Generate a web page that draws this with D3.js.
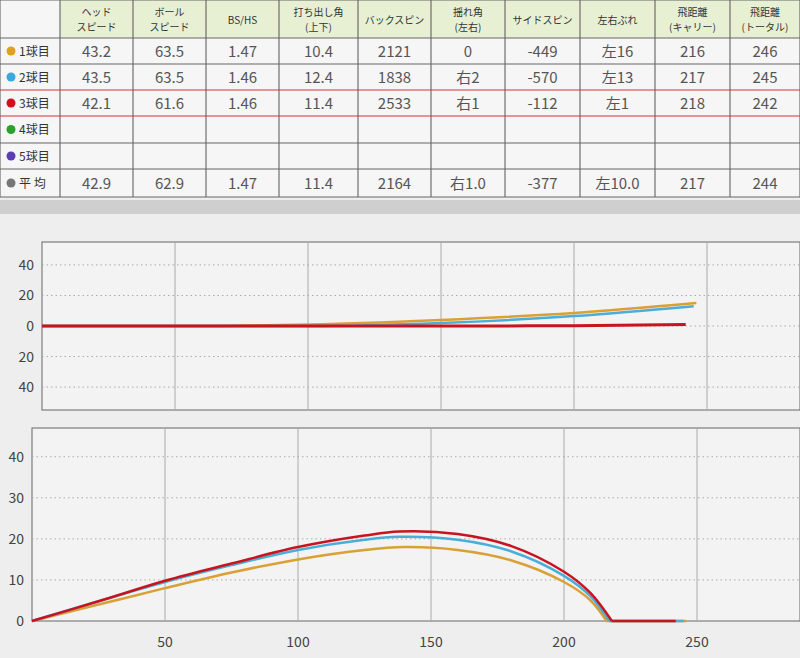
<!DOCTYPE html><html><head><meta charset="utf-8"><script src="https://cdn.jsdelivr.net/npm/d3@7"></script>
<style>body{margin:0;background:#eeeeee;font-family:"Noto Sans CJK JP","Noto Sans",sans-serif}</style></head><body><svg id="c" width="800" height="658"></svg>
<script>
const headers=[["ヘッド","スピード"],["ボール","スピード"],["BS/HS"],["打ち出し角","(上下)"],["バックスピン"],["揺れ角","(左右)"],["サイドスピン"],["左右ぶれ"],["飛距離","(キャリー)"],["飛距離","(トータル)"]];
const rowLabels=["1球目","2球目","3球目","4球目","5球目","平 均"];
const rowColors=["#e0a020","#3aa8dc","#d0101c","#2ca02c","#5a3cb4","#777777"];
const tableRows=[
["43.2","63.5","1.47","10.4","2121","0","-449","左16","216","246"],
["43.5","63.5","1.46","12.4","1838","右2","-570","左13","217","245"],
["42.1","61.6","1.46","11.4","2533","右1","-112","左1","218","242"],
[],[],
["42.9","62.9","1.47","11.4","2164","右1.0","-377","左10.0","217","244"]];
const seriesColors=["#d9a035","#4aaed8","#c8141e"];
const carry=[216,217,218];
const total=[246,245,242];
const heightX=[[0,25,50,75,100,125,140,160,180,200,210,216],[0,25,50,75,100,125,138,160,180,200,210,217],[0,25,50,75,100,125,138,160,180,200,210,218]];
const heightY=[[0,4,8,11.8,15,17.3,18,17.3,14.8,9.5,5,0],[0,4.8,9.5,13.6,17.3,19.8,20.5,19.8,17,11,6,0],[0,4.8,9.8,14,18,20.8,21.8,21.2,18.3,12,6.8,0]];
const sideX=[[0,50,100,150,200,246],[0,50,100,150,200,245],[0,50,100,150,200,242]];
const sideY=[[0,0,1,4,8.5,15],[0,0,0,2,6.5,13],[0,0,0,0,0.2,1]];
const xTicks=[50,100,150,200,250];
const sideTicks=[40,20,0,-20,-40];
const heightTicks=[40,30,20,10,0];

const svg=d3.select("#c");
const colX=[0,60,133,206,279,358,431,505,580,655,730,800];
const rowY=[0,38,64,90,116,143,169,197];
const g=svg.append("g");
g.append("rect").attr("x",0).attr("y",0).attr("width",800).attr("height",197).attr("fill","#f6f6f6");
g.append("rect").attr("x",60).attr("y",0).attr("width",740).attr("height",38).attr("fill","#e8f0d4");
colX.forEach(x=>g.append("line").attr("x1",x).attr("x2",x).attr("y1",0).attr("y2",197).attr("stroke","#555").attr("stroke-width",1));
rowY.forEach((y,i)=>g.append("line").attr("x1",0).attr("x2",800).attr("y1",y).attr("y2",y).attr("stroke",(i==3||i==4)?"#d8303c":"#666").attr("stroke-width",1));
headers.forEach((h,i)=>{const cx=(colX[i+1]+colX[i+2])/2;
 h.forEach((t,j)=>g.append("text").attr("x",cx).attr("y",h.length==1?24:16+j*15).attr("text-anchor","middle").attr("font-size",10).attr("fill","#333").text(t));});
rowLabels.forEach((l,i)=>{const y=(rowY[i+1]+rowY[i+2])/2;
 g.append("circle").attr("cx",11).attr("cy",y).attr("r",4.5).attr("fill",rowColors[i]);
 g.append("text").attr("x",19).attr("y",y+4.5).attr("font-size",12).attr("fill","#333").text(l);
 tableRows[i].forEach((v,j)=>g.append("text").attr("x",(colX[j+1]+colX[j+2])/2).attr("y",y+6).attr("text-anchor","middle").attr("font-size",15).attr("fill","#555").text(v));});
svg.append("rect").attr("x",0).attr("y",200).attr("width",800).attr("height",14).attr("fill","#cfcfcf");

function chart(top,bottom,left,domain,ticks,showX){
 const x=d3.scaleLinear().domain([0,50]).range([left,left+133]);
 const y=d3.scaleLinear().domain(domain).range([bottom,top]);
 const c=svg.append("g");
 c.append("rect").attr("x",left).attr("y",top).attr("width",800-left).attr("height",bottom-top).attr("fill","#f3f3f3").attr("stroke","#666");
 xTicks.forEach(t=>c.append("line").attr("x1",x(t)).attr("x2",x(t)).attr("y1",top).attr("y2",bottom).attr("stroke","#aaa"));
 ticks.forEach(t=>{ if(!(showX&&t==0)) c.append("line").attr("x1",left).attr("x2",800).attr("y1",y(t)).attr("y2",y(t)).attr("stroke","#aaa").attr("stroke-dasharray","1.5,3");
  c.append("text").attr("x",left-8).attr("y",y(t)+5).attr("text-anchor","end").attr("font-size",14).attr("fill","#444").text(Math.abs(t));});
 if(showX) xTicks.forEach(t=>c.append("text").attr("x",x(t)).attr("y",bottom+26).attr("text-anchor","middle").attr("font-size",14).attr("fill","#444").text(t));
 return {c,x,y};
}
const s=chart(242,410,42,[-55,55],sideTicks,false);
const sl=d3.line().x(d=>s.x(d[0])).y(d=>s.y(d[1])).curve(d3.curveMonotoneX);
sideX.forEach((xv,i)=>s.c.append("path").attr("d",sl(xv.map((v,k)=>[v,sideY[i][k]]))).attr("fill","none").attr("stroke",seriesColors[i]).attr("stroke-width",i==2?3:2.5));
const h=chart(428,621,32,[0,47],heightTicks,true);
const hl=d3.line().x(d=>h.x(d[0])).y(d=>h.y(d[1])).curve(d3.curveCatmullRom);
heightX.forEach((xv,i)=>{
 h.c.append("path").attr("d",hl(xv.map((v,k)=>[v,heightY[i][k]]))).attr("fill","none").attr("stroke",seriesColors[i]).attr("stroke-width",2.5);
 h.c.append("line").attr("x1",h.x(carry[i])).attr("x2",h.x(total[i])).attr("y1",h.y(0)).attr("y2",h.y(0)).attr("stroke",seriesColors[i]).attr("stroke-width",2.5);
});
</script></body></html>
